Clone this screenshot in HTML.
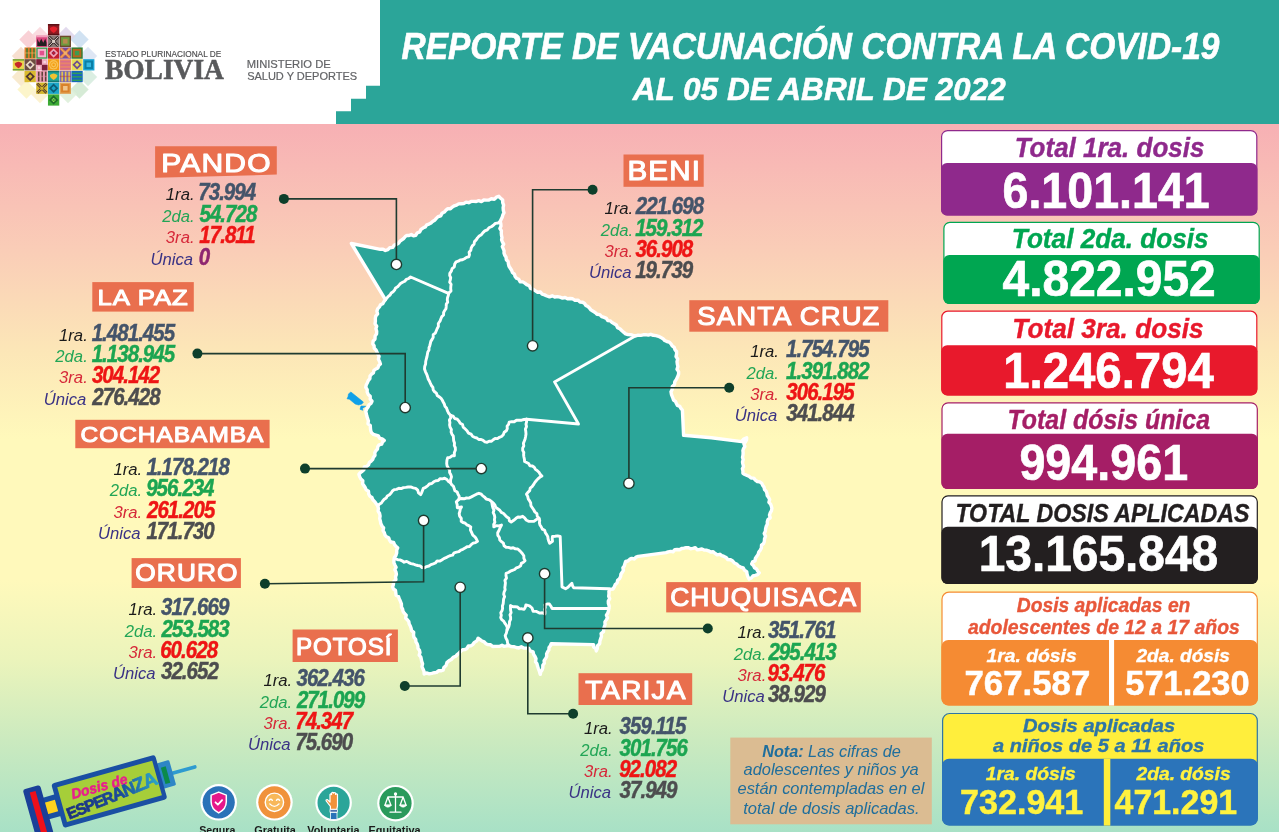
<!DOCTYPE html>
<html lang="es">
<head>
<meta charset="utf-8">
<title>Reporte de vacunación contra la COVID-19</title>
<style>
html,body{margin:0;padding:0;background:#fff;}
body{width:1279px;height:832px;overflow:hidden;font-family:'Liberation Sans',sans-serif;}
svg{display:block;}
text{white-space:pre;}
</style>
</head>
<body>
<svg width="1279" height="832" viewBox="0 0 1279 832">
<defs>
<linearGradient id="bg" x1="0" y1="0" x2="0" y2="1" gradientUnits="objectBoundingBox">
<stop offset="0" stop-color="#F7B0B4"/>
<stop offset="0.178" stop-color="#FACDB7"/>
<stop offset="0.319" stop-color="#FCE6B7"/>
<stop offset="0.446" stop-color="#FFF9BB"/>
<stop offset="0.644" stop-color="#FFF9BB"/>
<stop offset="0.757" stop-color="#EBF4BB"/>
<stop offset="0.870" stop-color="#CBEABF"/>
<stop offset="1" stop-color="#A8E1C6"/>
</linearGradient>
</defs>
<rect x="0" y="124" width="1279" height="708" fill="url(#bg)"/>
<rect x="0" y="0" width="1279" height="124" fill="#fff"/>
<path d="M380 0 H1279 V124 H336 V111.3 H351 V98.8 H366 V85.8 H380 Z" fill="#2BA599"/>
<text transform="translate(401.47 59.40) scale(0.9296 1)" font-family="'Liberation Sans', sans-serif" font-size="36" font-weight="bold" font-style="italic" fill="#fff" stroke="#fff" stroke-width="0.6">REPORTE DE VACUNACIÓN CONTRA LA COVID-19</text>
<text transform="translate(632.75 99.60) scale(0.9928 1)" font-family="'Liberation Sans', sans-serif" font-size="31.8" font-weight="bold" font-style="italic" fill="#fff" stroke="#fff" stroke-width="0.5">AL 05 DE ABRIL DE 2022</text>
<rect x="941.6" y="130.6" width="315.19999999999993" height="84.4" rx="6" ry="6" fill="#fff" stroke="#8F298C" stroke-width="1.2"/>
<rect x="941.0" y="163" width="316.3999999999999" height="52.6" rx="6" ry="6" fill="#8F298C"/>
<text transform="translate(1014.68 156.80) scale(0.9157 1)" font-family="'Liberation Sans', sans-serif" font-size="28.4" font-weight="bold" font-style="italic" fill="#8F298C" stroke="#8F298C" stroke-width="0.4">Total 1ra. dosis</text>
<text transform="translate(1002.50 208.00) scale(0.9228 1)" font-family="'Liberation Sans', sans-serif" font-size="50.5" font-weight="bold" font-style="normal" fill="#fff" stroke="#fff" stroke-width="0.7">6.101.141</text>
<rect x="943.9" y="222.4" width="315.30000000000007" height="81.1" rx="6" ry="6" fill="#fff" stroke="#00A651" stroke-width="1.2"/>
<rect x="943.3" y="255" width="316.50000000000006" height="49.1" rx="6" ry="6" fill="#00A651"/>
<text transform="translate(1011.87 248.10) scale(0.9220 1)" font-family="'Liberation Sans', sans-serif" font-size="28.4" font-weight="bold" font-style="italic" fill="#00A651" stroke="#00A651" stroke-width="0.4">Total 2da. dosis</text>
<text transform="translate(1002.52 295.60) scale(0.9663 1)" font-family="'Liberation Sans', sans-serif" font-size="49.6" font-weight="bold" font-style="normal" fill="#fff" stroke="#fff" stroke-width="0.7">4.822.952</text>
<rect x="941.8" y="311.2" width="315.0" height="83.60000000000002" rx="6" ry="6" fill="#fff" stroke="#E8192C" stroke-width="1.2"/>
<rect x="941.1999999999999" y="345.3" width="316.2" height="50.1" rx="6" ry="6" fill="#E8192C"/>
<text transform="translate(1012.37 337.60) scale(0.9230 1)" font-family="'Liberation Sans', sans-serif" font-size="28.4" font-weight="bold" font-style="italic" fill="#E8192C" stroke="#E8192C" stroke-width="0.4">Total 3ra. dosis</text>
<text transform="translate(1003.26 388.40) scale(0.9504 1)" font-family="'Liberation Sans', sans-serif" font-size="49.8" font-weight="bold" font-style="normal" fill="#fff" stroke="#fff" stroke-width="0.7">1.246.794</text>
<rect x="942" y="402.8" width="315.29999999999995" height="85.69999999999999" rx="6" ry="6" fill="#fff" stroke="#A51E66" stroke-width="1.2"/>
<rect x="941.4" y="433.8" width="316.49999999999994" height="55.29999999999999" rx="6" ry="6" fill="#A51E66"/>
<text transform="translate(1007.56 428.60) scale(0.8831 1)" font-family="'Liberation Sans', sans-serif" font-size="28.2" font-weight="bold" font-style="italic" fill="#A51E66" stroke="#A51E66" stroke-width="0.4">Total dósis única</text>
<text transform="translate(1019.40 479.60) scale(0.9335 1)" font-family="'Liberation Sans', sans-serif" font-size="50" font-weight="bold" font-style="normal" fill="#fff" stroke="#fff" stroke-width="0.7">994.961</text>
<rect x="942" y="495.8" width="315.29999999999995" height="87.49999999999994" rx="6" ry="6" fill="#fff" stroke="#231F20" stroke-width="1.2"/>
<rect x="941.4" y="526.8" width="316.49999999999994" height="57.1" rx="6" ry="6" fill="#231F20"/>
<text transform="translate(955.38 522.00) scale(0.8719 1)" font-family="'Liberation Sans', sans-serif" font-size="26.6" font-weight="bold" font-style="italic" fill="#231F20" stroke="#231F20" stroke-width="0.4">TOTAL DOSIS APLICADAS</text>
<text transform="translate(978.73 571.20) scale(0.9668 1)" font-family="'Liberation Sans', sans-serif" font-size="49.5" font-weight="bold" font-style="normal" fill="#fff" stroke="#fff" stroke-width="0.7">13.165.848</text>
<rect x="942" y="592.2" width="315.29999999999995" height="112.79999999999995" rx="7" ry="7" fill="#fff" stroke="#F58B33" stroke-width="1.2"/>
<rect x="941.4" y="640" width="316.49999999999994" height="65.6" rx="7" ry="7" fill="#F58B33"/>
<rect x="1109" y="640" width="5.099999999999909" height="65.6" fill="#fff"/>
<text transform="translate(1016.71 611.80) scale(0.9508 1)" font-family="'Liberation Sans', sans-serif" font-size="20.3" font-weight="bold" font-style="italic" fill="#E8573A" stroke="#E8573A" stroke-width="0.35">Dosis aplicadas en</text>
<text transform="translate(967.90 633.90) scale(0.9562 1)" font-family="'Liberation Sans', sans-serif" font-size="20.3" font-weight="bold" font-style="italic" fill="#E8573A" stroke="#E8573A" stroke-width="0.35">adolescentes de 12 a 17 años</text>
<text transform="translate(986.41 662.40) scale(1.0179 1)" font-family="'Liberation Sans', sans-serif" font-size="19" font-weight="bold" font-style="italic" fill="#fff" stroke="#fff" stroke-width="0.35">1ra. dósis</text>
<text transform="translate(1136.48 662.40) scale(1.0064 1)" font-family="'Liberation Sans', sans-serif" font-size="19" font-weight="bold" font-style="italic" fill="#fff" stroke="#fff" stroke-width="0.35">2da. dósis</text>
<text transform="translate(964.41 694.90) scale(0.9956 1)" font-family="'Liberation Sans', sans-serif" font-size="35" font-weight="bold" font-style="normal" fill="#fff" stroke="#fff" stroke-width="0.5">767.587</text>
<text transform="translate(1125.27 694.90) scale(0.9823 1)" font-family="'Liberation Sans', sans-serif" font-size="35" font-weight="bold" font-style="normal" fill="#fff" stroke="#fff" stroke-width="0.5">571.230</text>
<rect x="942.6" y="713.5" width="314.69999999999993" height="111.5" rx="7" ry="7" fill="#FFEE3C" stroke="#2E75A6" stroke-width="1.2"/>
<rect x="942.0" y="758.7" width="315.8999999999999" height="66.89999999999995" rx="7" ry="7" fill="#2B74BA"/>
<rect x="1103.8" y="758.7" width="6.5" height="66.89999999999995" fill="#FFEE3C"/>
<text transform="translate(1022.90 731.60) scale(1.0726 1)" font-family="'Liberation Sans', sans-serif" font-size="18.8" font-weight="bold" font-style="italic" fill="#2E75A6" stroke="#2E75A6" stroke-width="0.35">Dosis aplicadas</text>
<text transform="translate(992.90 752.30) scale(1.0674 1)" font-family="'Liberation Sans', sans-serif" font-size="18.8" font-weight="bold" font-style="italic" fill="#2E75A6" stroke="#2E75A6" stroke-width="0.35">a niños de 5 a 11 años</text>
<text transform="translate(985.71 779.80) scale(1.0733 1)" font-family="'Liberation Sans', sans-serif" font-size="18" font-weight="bold" font-style="italic" fill="#FFF23F" stroke="#FFF23F" stroke-width="0.35">1ra. dósis</text>
<text transform="translate(1136.49 779.80) scale(1.0703 1)" font-family="'Liberation Sans', sans-serif" font-size="18" font-weight="bold" font-style="italic" fill="#FFF23F" stroke="#FFF23F" stroke-width="0.35">2da. dósis</text>
<text transform="translate(960.04 813.60) scale(0.9855 1)" font-family="'Liberation Sans', sans-serif" font-size="34.6" font-weight="bold" font-style="normal" fill="#FFF23F" stroke="#FFF23F" stroke-width="0.5">732.941</text>
<text transform="translate(1114.56 813.60) scale(0.9797 1)" font-family="'Liberation Sans', sans-serif" font-size="34.6" font-weight="bold" font-style="normal" fill="#FFF23F" stroke="#FFF23F" stroke-width="0.5">471.291</text>
<polygon points="351.4,243.5 380.4,249.3 383.1,249.2 385.4,250.5 387.9,249.7 389.8,247.7 392.6,247.4 394.3,245.1 396.8,244.2 398.7,243.0 400.0,241.1 401.8,239.8 403.7,238.5 405.1,236.7 406.9,235.4 409.1,235.5 411.3,234.5 413.5,235.9 415.7,235.4 417.1,233.0 419.8,231.9 421.0,229.3 423.3,227.8 425.4,226.9 426.7,224.8 429.0,224.1 431.0,223.0 432.6,221.4 434.6,220.3 436.3,218.4 438.1,216.6 440.8,215.8 442.0,213.3 444.3,212.1 446.0,210.2 447.9,208.7 450.5,208.7 452.3,207.1 454.3,205.8 456.6,205.1 458.6,203.9 461.2,203.7 463.7,203.6 466.1,202.1 468.7,202.7 471.1,201.4 473.7,201.4 476.3,201.5 478.7,200.7 481.4,201.6 483.8,200.0 486.3,200.1 488.9,200.1 491.3,198.8 494.3,199.2 496.4,197.2 498.9,196.3 500.7,198.3 502.7,200.1 502.7,202.6 503.6,205.1 503.1,207.7 503.3,210.2 504.0,212.7 502.9,214.8 502.2,217.2 501.2,219.3 500.2,221.5 500.8,223.8 501.0,226.1 499.9,228.5 501.4,230.7 501.3,233.1 501.5,235.4 502.0,237.6 501.6,239.9 502.4,242.0 503.7,244.1 502.3,246.6 503.2,248.7 504.1,250.8 504.0,253.1 504.8,255.3 506.1,257.3 506.3,259.7 508.1,261.5 508.4,263.9 509.0,266.2 510.3,268.2 511.6,270.2 512.4,272.5 514.4,274.1 515.1,276.5 516.6,278.3 518.8,279.2 520.1,281.7 522.8,281.9 524.8,283.1 526.7,284.6 529.3,285.7 530.6,288.4 533.3,289.3 535.5,290.9 537.6,292.2 540.5,292.0 542.2,294.2 544.6,294.9 546.9,296.0 549.5,296.8 552.2,295.8 554.7,297.0 557.4,296.6 560.0,297.2 562.5,298.1 565.1,297.5 567.5,298.7 570.1,298.5 572.7,298.8 575.0,300.3 577.9,300.1 580.0,302.0 582.7,302.3 584.6,303.5 585.9,305.5 587.9,306.6 589.5,308.1 590.9,309.8 592.8,311.1 595.1,312.4 597.0,314.3 599.8,314.6 601.7,316.6 604.2,317.4 606.4,318.4 607.8,320.6 610.4,320.9 612.1,322.6 614.2,323.7 616.4,325.0 617.5,327.6 619.9,328.7 621.7,330.5 623.6,332.2 625.6,333.8 628.1,334.6 630.7,334.7 633.2,335.4 635.7,335.8 638.2,335.1 640.7,335.4 643.2,334.8 645.7,334.6 648.3,335.1 650.8,334.3 653.3,335.3 656.0,335.6 658.5,336.3 660.9,337.6 663.0,338.7 664.7,340.5 666.9,341.5 669.3,342.1 671.0,343.9 672.2,345.9 674.2,347.4 675.0,349.8 676.6,351.5 676.6,354.0 676.0,356.6 677.7,359.0 677.0,361.6 677.3,364.1 677.9,366.6 677.0,369.3 678.6,371.6 678.6,374.2 677.6,376.8 676.4,379.4 674.8,381.7 674.5,384.5 672.3,386.5 672.2,389.4 671.0,391.8 671.5,394.6 672.6,397.3 673.5,400.0 675.4,401.3 676.4,403.5 677.4,405.5 679.9,406.4 680.9,408.4 682.4,410.1 683.6,435.3 711.4,437.8 741.7,441.6 743.7,439.0 746.7,437.8 746.5,440.0 745.4,442.0 743.9,443.9 744.9,446.5 743.6,448.4 742.9,450.5 743.1,452.8 743.0,455.0 742.5,457.3 743.2,459.6 742.5,461.9 742.9,464.1 743.5,466.4 742.4,468.7 742.9,470.9 742.9,473.2 744.9,474.5 747.1,475.5 749.3,476.4 751.1,478.0 753.8,478.1 755.4,480.2 757.3,481.5 759.8,481.9 761.8,483.3 762.7,485.4 764.1,487.2 764.5,489.5 766.1,491.2 766.9,493.3 767.2,495.6 768.6,497.5 769.7,499.6 768.9,502.3 770.6,504.1 771.4,506.3 771.9,508.5 771.4,510.8 770.2,512.9 769.5,515.1 770.2,517.8 767.9,519.6 767.3,521.8 767.3,524.3 766.2,526.4 765.6,528.7 765.4,531.2 764.2,533.6 765.5,536.3 764.5,538.8 764.4,541.3 763.5,543.6 761.5,545.2 761.4,547.9 760.3,550.1 758.8,552.0 758.1,554.4 756.8,556.4 755.4,558.2 755.1,560.8 752.6,561.8 751.7,564.0 753.4,565.6 754.5,567.8 756.6,569.0 757.7,571.1 759.3,572.8 757.6,574.6 755.3,575.4 752.9,576.0 751.3,578.0 749.2,579.1 747.9,576.7 747.1,574.3 746.7,571.6 744.5,570.3 743.2,567.9 740.6,567.1 738.4,565.9 736.6,564.0 734.3,563.0 732.7,561.0 730.6,559.8 727.8,559.6 726.2,557.5 724.0,556.4 721.8,555.6 719.8,554.3 717.1,554.9 715.1,553.4 713.2,551.7 710.6,552.0 708.5,550.8 706.3,550.1 704.0,550.0 701.9,549.0 699.6,549.5 697.3,549.8 695.3,547.7 692.9,548.4 690.6,548.7 688.5,547.7 686.2,547.6 684.0,548.2 681.7,548.5 679.6,549.8 677.1,549.5 674.8,549.7 673.0,551.8 670.5,551.4 668.2,551.8 666.0,552.6 638.2,556.4 636.0,557.1 634.4,559.0 631.7,558.4 629.6,559.4 627.8,561.0 625.6,561.5 624.9,563.7 624.3,565.9 622.9,567.8 623.4,570.3 622.2,572.3 620.9,574.3 620.6,576.6 619.5,578.8 617.6,580.4 617.1,583.0 615.2,584.6 614.3,586.9 613.0,589.0 610.2,589.3 608.9,591.4 609.0,593.8 608.7,596.3 609.7,598.7 608.3,601.2 608.4,603.6 609.2,606.1 608.9,608.5 608.5,610.8 607.8,613.0 606.4,615.1 607.5,617.8 606.3,619.9 604.9,621.9 605.1,624.4 604.4,626.6 603.7,629.0 603.5,631.6 601.1,633.5 601.5,636.2 600.7,638.6 599.9,641.0 599.7,643.7 597.5,645.7 597.3,648.5 596.3,650.9 595.9,648.6 593.6,647.1 593.6,644.6 551.2,643.7 550.4,645.8 549.0,647.6 548.9,650.0 547.6,651.8 546.6,654.0 546.7,656.5 545.5,658.6 544.1,660.7 544.3,663.2 542.8,665.2 542.8,667.7 542.1,670.0 540.7,672.0 540.3,674.4 539.5,671.7 538.5,669.0 537.6,666.3 537.0,663.8 535.5,661.7 536.0,658.8 535.0,656.5 533.6,654.3 533.1,651.8 530.2,650.8 528.6,648.2 526.1,648.1 523.7,648.0 521.3,646.8 518.7,648.1 516.3,647.5 513.8,646.7 511.2,646.6 508.8,645.5 506.6,645.8 504.3,646.4 502.0,645.2 499.8,646.2 497.6,646.4 495.3,646.4 492.7,646.5 490.6,644.7 488.0,644.6 485.8,643.7 484.2,641.8 482.0,641.0 480.1,639.6 478.1,638.3 476.9,640.9 474.4,642.4 472.7,644.6 470.8,645.9 468.3,646.0 467.0,648.4 465.0,649.5 462.6,649.8 460.8,651.3 459.1,653.0 457.3,654.5 455.7,656.3 453.2,657.4 451.3,659.5 449.0,660.8 446.9,662.6 446.1,665.4 443.9,667.4 443.1,670.2 440.9,670.8 438.5,670.8 436.6,672.4 434.3,672.7 431.8,673.3 429.3,673.8 426.6,673.0 424.2,674.0 424.0,671.4 423.0,669.0 421.9,666.6 422.6,663.9 421.7,661.4 421.3,659.2 420.8,657.0 419.2,655.1 420.0,652.6 419.5,650.4 418.0,648.5 417.9,646.2 417.2,643.9 415.9,641.8 415.7,639.3 414.0,637.4 413.5,635.1 413.7,632.4 411.6,630.6 411.1,628.3 410.3,626.0 409.2,624.0 408.8,621.6 407.3,619.7 405.6,618.0 406.2,615.1 404.5,613.4 403.1,611.5 402.6,609.1 401.5,607.1 401.4,603.8 400.2,600.8 399.2,598.8 398.5,596.6 396.1,595.3 395.8,592.9 395.5,590.5 393.4,589.0 392.6,586.9 393.4,584.4 393.7,581.7 395.9,579.6 395.5,576.8 396.4,574.3 396.0,572.0 394.8,569.8 396.1,567.2 394.9,565.0 393.9,562.8 393.9,560.4 394.3,557.8 395.9,555.5 396.7,553.0 396.7,550.2 397.7,547.8 395.9,546.4 394.5,544.7 393.6,542.4 390.8,542.0 389.5,540.1 388.7,537.8 386.5,536.8 385.0,535.1 384.3,532.7 383.0,530.6 383.6,527.8 381.9,525.8 380.8,523.5 380.4,521.1 379.7,518.6 380.1,516.0 379.6,513.5 378.1,511.1 378.4,508.5 377.8,506.0 376.2,503.8 374.7,501.6 372.8,499.7 371.9,497.5 369.8,496.1 368.7,493.9 368.5,491.3 366.2,489.9 365.3,487.8 364.0,485.8 362.6,483.7 362.8,480.8 360.9,479.0 359.7,476.8 358.9,474.4 360.3,472.6 362.2,471.3 363.9,469.7 364.3,466.9 366.9,466.3 368.6,464.7 369.4,462.3 371.3,461.0 372.8,459.3 373.5,457.1 375.0,455.3 374.8,452.8 375.8,450.8 377.5,449.0 377.8,446.7 379.1,444.8 381.7,444.2 382.5,441.9 384.2,440.4 382.2,439.0 379.7,438.4 378.3,435.9 375.9,435.1 373.4,434.4 371.5,432.8 370.7,430.5 370.4,428.0 370.3,425.6 368.0,423.7 368.4,421.0 367.7,418.7 366.9,416.4 366.3,414.0 365.8,411.3 366.7,408.8 368.2,407.0 369.0,404.8 371.0,403.4 372.0,401.2 370.2,399.2 370.2,396.3 368.2,394.4 367.2,392.0 367.2,389.6 365.7,387.3 366.3,384.8 367.4,382.7 368.3,380.5 369.9,378.7 370.0,376.1 371.5,374.2 373.4,372.8 373.9,370.4 375.8,369.0 377.9,367.9 378.7,365.6 380.4,364.1 379.6,361.6 378.4,359.2 379.1,356.4 377.8,354.0 376.9,351.9 376.0,349.9 374.2,348.2 374.1,345.8 372.8,343.9 373.1,341.1 375.0,339.0 375.1,336.1 376.6,333.8 376.7,331.3 375.9,328.8 376.7,326.2 375.0,323.8 375.4,321.2 375.3,318.7 375.7,316.1 377.6,313.9 376.9,311.1 377.8,308.6 379.5,306.9 380.5,304.7 382.8,303.7 384.0,301.5 385.4,299.7" fill="#2BA599" stroke="#fff" stroke-width="3.4" stroke-linejoin="round"/>
<polyline points="385.4,299.7 386.9,298.0 388.3,296.4 390.1,295.0 391.2,293.0 393.1,291.7 394.6,290.1 395.6,287.9 397.6,286.8 399.1,285.1 400.5,283.4 402.6,282.2 404.8,281.2 406.4,279.3 408.7,278.5 410.6,277.0 448.5,293.4" fill="none" stroke="#fff" stroke-width="2.9" stroke-linejoin="round" stroke-linecap="round"/>
<polyline points="500.2,221.5 498.1,223.0 495.3,223.4 493.4,225.2 491.3,226.7 488.9,227.8 487.3,229.8 484.8,230.9 483.0,232.6 481.4,234.7 479.2,236.0 477.5,237.9 476.2,239.9 474.5,241.6 474.0,244.2 472.3,245.9 471.2,248.0 470.8,250.3 469.1,252.2 469.5,254.7 468.7,256.9 466.5,257.4 464.5,258.7 462.5,259.7 460.2,260.0 458.3,261.2 456.1,261.9 454.7,264.1 454.3,266.8 452.1,268.6 451.3,271.2 449.8,273.3 449.7,275.5 450.7,277.7 450.3,279.9 449.7,282.2 451.1,284.3 450.8,286.5 450.7,288.7 451.0,290.9 448.5,293.4" fill="none" stroke="#fff" stroke-width="2.9" stroke-linejoin="round" stroke-linecap="round"/>
<polyline points="448.5,293.4 448.3,295.6 447.5,297.7 447.3,299.9 447.7,302.2 446.3,304.2 446.2,306.4 446.0,308.6 444.7,310.5 443.6,312.4 443.6,315.0 441.8,316.6 440.9,318.7 440.0,321.2 438.3,323.5 438.4,326.4 437.1,328.8 436.2,331.0 435.3,333.1 433.2,334.7 433.2,337.3 432.1,339.4 430.8,341.4 430.3,343.6 429.8,345.7 429.0,347.8 429.0,350.1 427.8,352.1 427.4,354.3 427.0,356.5 426.3,359.0 425.7,361.5 425.6,364.1 424.7,366.5 424.5,369.1 425.4,371.6 426.6,374.1 427.5,376.6 428.3,379.2 429.5,381.2 430.4,383.4 431.4,385.5 432.9,387.4 433.2,389.9 434.6,391.8 436.4,393.1 437.2,395.5 439.1,396.8 440.9,398.1 442.2,400.0 443.2,402.0 444.3,404.0 444.9,406.2 446.5,407.9 447.2,410.1 448.5,413.0 450.6,415.4" fill="none" stroke="#fff" stroke-width="2.9" stroke-linejoin="round" stroke-linecap="round"/>
<polyline points="450.6,415.4 453.1,416.2 454.7,418.5 457.3,419.2 458.9,421.1 460.2,423.2 462.5,424.5 463.2,427.1 465.0,428.8 467.0,430.7 468.4,433.1 471.1,434.2 472.7,436.5 474.8,437.3 476.9,438.0 478.7,439.5 481.1,439.5 483.1,440.4 484.9,441.8 487.1,442.3 489.1,441.2 491.5,441.3 493.2,439.7 495.1,438.5 497.5,438.6 499.4,437.3 501.5,436.5 503.3,434.7 504.2,432.3 506.3,430.8 507.3,428.7 507.1,426.2 508.6,424.3 509.2,422.1 511.7,421.6 514.2,421.8 516.5,420.2 519.1,420.3 521.6,420.2 524.0,419.5 526.5,419.2" fill="none" stroke="#fff" stroke-width="2.9" stroke-linejoin="round" stroke-linecap="round"/>
<polyline points="526.5,419.2 578.5,424.0 554.5,381.9 635.7,335.8" fill="none" stroke="#fff" stroke-width="2.9" stroke-linejoin="round" stroke-linecap="round"/>
<polyline points="450.6,415.4 450.8,417.8 449.4,420.1 449.9,422.6 449.6,425.0 450.1,427.3 451.4,429.4 451.1,431.9 451.9,434.1 453.3,436.1 453.5,438.5 453.7,440.8 454.5,443.1 454.3,445.5 455.3,447.7 455.4,450.0 454.3,452.8 454.4,455.8 452.0,455.8 450.0,457.4 447.7,457.7 446.9,460.5 446.7,463.5 447.1,465.9 448.3,468.0 449.6,470.0 449.6,472.5 450.8,474.6 451.5,476.9 450.6,479.7 450.6,482.7 451.7,484.7 453.4,486.3 454.2,488.5 454.9,490.8 457.2,492.0 458.0,494.2 459.2,496.2 459.2,499.0" fill="none" stroke="#fff" stroke-width="2.9" stroke-linejoin="round" stroke-linecap="round"/>
<polyline points="377.8,506.0 379.3,504.2 381.4,503.0 382.7,501.0 384.2,499.3 386.2,498.0 387.3,495.9 389.5,494.7 391.1,493.0 392.4,491.0 394.2,489.6 396.6,489.4 398.8,488.3 401.2,488.6 403.4,487.6 405.8,487.4 408.1,487.0 410.7,486.9 413.2,487.8 415.7,488.3 417.7,490.1 418.5,492.9 420.7,494.6 421.7,492.6 422.5,490.4 423.3,488.3 425.6,487.3 427.6,485.9 429.3,484.0 431.8,483.5 433.7,481.8 435.9,480.7 438.2,480.5 440.1,478.6 442.5,478.9 444.7,478.2 446.9,479.5 448.4,481.5 450.6,482.7" fill="none" stroke="#fff" stroke-width="2.9" stroke-linejoin="round" stroke-linecap="round"/>
<polyline points="526.5,419.2 526.6,421.7 526.0,424.1 526.5,426.6 525.4,429.1 525.8,431.6 526.0,434.0 525.6,436.5 525.1,438.9 524.3,441.1 523.4,443.3 523.8,445.9 522.7,448.1 522.7,450.4 523.8,452.5 523.6,454.8 523.9,457.0 524.4,459.2 524.6,461.5 526.6,462.5 528.6,463.5 529.9,465.7 532.4,466.0 534.2,467.3 535.4,469.3 537.3,470.7 539.0,472.3 540.2,474.4 541.9,476.0 539.7,477.3 537.9,478.9 536.2,480.8 534.7,482.6 533.5,484.7 532.1,486.6 530.2,488.1 529.7,490.7 527.9,492.3 526.5,494.2 527.7,496.4 528.2,498.8 529.6,500.8 530.7,503.0 530.9,505.6 532.3,507.7 533.7,509.8 534.9,512.0 536.9,513.7 537.3,516.4 539.0,518.3 539.7,520.5 539.4,522.8 540.0,525.0 541.3,527.0 542.3,529.1 544.7,530.3 545.3,532.7 546.7,534.6 547.8,536.7 548.1,539.0 548.8,541.2 549.6,543.3 552.5,541.3 552.2,538.9 552.5,536.5 555.1,536.3 557.6,535.9 560.2,536.5 562.0,586.9 565.6,588.7 568.0,587.3 569.9,585.3 571.9,583.3 572.5,585.7 573.7,587.8 608.9,588.7" fill="none" stroke="#fff" stroke-width="2.9" stroke-linejoin="round" stroke-linecap="round"/>
<polyline points="459.2,499.0 461.6,498.5 464.0,498.8 466.4,498.0 468.8,498.1 471.4,496.9 474.0,495.5 476.5,494.2 478.9,493.3 481.3,494.2 482.8,495.9 484.7,497.2 486.2,499.0 489.4,499.8 491.9,501.9 493.6,503.4 495.0,505.2 495.8,507.4 497.7,508.7 499.8,510.2 501.3,512.4 503.6,513.5 505.4,515.4 506.9,517.0 508.9,518.2 509.4,520.8 511.2,522.1 513.7,520.3 516.0,518.3 518.0,517.0 520.5,517.2 522.7,516.3 524.6,517.9 526.2,520.0 528.5,521.2 531.4,521.4 534.2,521.2 536.5,519.5 539.0,518.3" fill="none" stroke="#fff" stroke-width="2.9" stroke-linejoin="round" stroke-linecap="round"/>
<polyline points="459.2,499.0 456.3,501.9 457.2,504.7 457.3,507.7 461.5,507.0 460.3,509.0 459.9,511.3 459.2,513.5 459.6,516.1 461.3,518.4 461.2,521.2 463.0,522.5 465.2,523.2 466.8,524.8 468.9,525.7 470.8,526.9 470.4,529.9 471.7,532.7 472.8,535.1 474.9,536.8 476.3,538.9 477.5,541.3 475.5,542.6 473.1,543.2 471.2,544.6 469.5,546.5 467.0,546.7 465.0,548.1 462.9,549.3 460.7,550.1 458.9,551.7 456.5,552.2 454.1,552.8 452.6,555.1 450.2,555.6 448.1,556.5 446.0,557.7 443.8,558.6 441.8,560.0 439.7,561.1 437.1,561.0 435.4,563.0 433.2,563.9 430.9,564.6 428.9,566.0 426.6,566.6 424.5,567.8 422.1,567.5 420.1,565.9 417.7,565.5 415.4,564.8 413.2,564.0 410.9,563.6 408.8,562.6 406.7,561.4 404.1,562.2 402.1,560.8 400.0,559.9 397.7,559.7 395.5,558.9" fill="none" stroke="#fff" stroke-width="2.9" stroke-linejoin="round" stroke-linecap="round"/>
<polyline points="491.9,503.0 492.3,505.4 492.9,507.8 494.0,510.0 493.2,512.7 494.3,514.9 494.8,517.3 494.4,519.7 494.9,522.2 493.7,524.5 493.8,526.9 496.2,525.8 499.0,525.9 501.5,525.0 500.2,527.5 499.1,530.2 497.7,532.7 497.8,535.3 499.4,537.5 499.8,540.0 501.5,541.7 503.4,543.2 504.1,545.8 506.1,547.2 508.5,547.4 510.7,548.2 513.2,547.8 515.4,548.9 517.8,549.0 520.2,551.1 522.3,553.5 523.8,555.7 523.9,558.4 525.0,560.7 523.4,562.3 521.3,563.4 520.6,565.8 518.7,567.1 516.4,567.8 514.7,569.5 512.4,570.3 510.3,571.2 508.3,572.5 506.1,573.4 506.0,575.7 506.5,578.1 504.9,580.4 505.4,582.8 505.2,585.1 504.8,587.4 505.1,589.8 504.1,592.0 503.7,594.3 504.6,596.7 503.6,599.0 503.4,601.3 503.2,603.7 502.4,605.9 502.6,608.3 502.1,610.6 500.8,612.8 501.3,615.3 500.7,617.6 501.7,619.6 503.6,621.1 504.7,623.0 506.1,624.8 507.3,627.4 507.0,630.2 506.4,633.0 505.2,635.6 505.9,638.1 507.2,640.5 507.6,643.1 508.8,645.5" fill="none" stroke="#fff" stroke-width="2.9" stroke-linejoin="round" stroke-linecap="round"/>
<polyline points="510.6,605.8 510.5,608.1 510.6,610.3 511.1,612.6 510.0,614.9 510.6,617.1 510.6,619.4 509.5,621.7 509.4,624.2 508.8,626.6 507.0,630.2" fill="none" stroke="#fff" stroke-width="2.9" stroke-linejoin="round" stroke-linecap="round"/>
<polyline points="510.6,605.8 512.8,606.7 515.1,606.8 517.5,607.0 519.4,608.9 521.9,608.8 524.1,609.4 525.3,607.3 525.9,604.9 529.5,605.8 532.0,608.0 533.1,611.2 536.5,611.4 539.4,613.1 542.3,612.8 544.9,614.0 545.0,611.7 544.6,609.5 545.3,607.2 544.9,604.9 547.1,604.0 549.4,604.0 550.9,606.2 552.1,608.5 608.9,608.5" fill="none" stroke="#fff" stroke-width="2.9" stroke-linejoin="round" stroke-linecap="round"/>
<path d="M348.5 393.9 L350.9 392 L363.4 402.1 L361.9 404 L358.6 405 L355.2 404 L349.4 399.2 L347 398.8 L348 396.8 Z M361 406 L365.8 406.2 L362.4 408.4 L362.9 410.3 L360 409.3 Z" fill="#0FA0E8" stroke="#0FA0E8" stroke-width="0.6" stroke-linejoin="round"/>
<polyline points="283.9,198.9 396.4,198.9 396.4,264.4" fill="none" stroke="#1F3B30" stroke-width="1.6"/>
<circle cx="283.9" cy="198.9" r="5" fill="#0E3F2B"/>
<circle cx="396.4" cy="264.4" r="5.2" fill="#fff" stroke="#1F3B30" stroke-width="1.4"/>
<polyline points="197.4,353.6 405.2,353.6 405.2,407.6" fill="none" stroke="#1F3B30" stroke-width="1.6"/>
<circle cx="197.4" cy="353.6" r="5" fill="#0E3F2B"/>
<circle cx="405.2" cy="407.6" r="5.2" fill="#fff" stroke="#1F3B30" stroke-width="1.4"/>
<polyline points="305.0,468.6 481.3,468.6" fill="none" stroke="#1F3B30" stroke-width="1.6"/>
<circle cx="305" cy="468.6" r="5" fill="#0E3F2B"/>
<circle cx="481.3" cy="468.6" r="5.2" fill="#fff" stroke="#1F3B30" stroke-width="1.4"/>
<polyline points="264.9,583.7 423.6,581.7 423.6,520.5" fill="none" stroke="#1F3B30" stroke-width="1.6"/>
<circle cx="264.9" cy="583.7" r="5" fill="#0E3F2B"/>
<circle cx="423.6" cy="520.5" r="5.2" fill="#fff" stroke="#1F3B30" stroke-width="1.4"/>
<polyline points="404.8,686.0 460.2,686.0 460.2,587.3" fill="none" stroke="#1F3B30" stroke-width="1.6"/>
<circle cx="404.8" cy="686" r="5" fill="#0E3F2B"/>
<circle cx="460.2" cy="587.3" r="5.2" fill="#fff" stroke="#1F3B30" stroke-width="1.4"/>
<polyline points="592.6,189.8 532.6,189.8 532.6,345.8" fill="none" stroke="#1F3B30" stroke-width="1.6"/>
<circle cx="592.6" cy="189.8" r="5" fill="#0E3F2B"/>
<circle cx="532.6" cy="345.8" r="5.2" fill="#fff" stroke="#1F3B30" stroke-width="1.4"/>
<polyline points="729.2,387.7 628.9,387.7 628.9,483.3" fill="none" stroke="#1F3B30" stroke-width="1.6"/>
<circle cx="729.2" cy="387.7" r="5" fill="#0E3F2B"/>
<circle cx="628.9" cy="483.3" r="5.2" fill="#fff" stroke="#1F3B30" stroke-width="1.4"/>
<polyline points="707.8,628.5 544.6,628.5 544.6,573.7" fill="none" stroke="#1F3B30" stroke-width="1.6"/>
<circle cx="707.8" cy="628.5" r="5" fill="#0E3F2B"/>
<circle cx="544.6" cy="573.7" r="5.2" fill="#fff" stroke="#1F3B30" stroke-width="1.4"/>
<polyline points="573.1,713.8 527.8,713.8 527.8,637.9" fill="none" stroke="#1F3B30" stroke-width="1.6"/>
<circle cx="573.1" cy="713.8" r="5" fill="#0E3F2B"/>
<circle cx="527.8" cy="637.9" r="5.2" fill="#fff" stroke="#1F3B30" stroke-width="1.4"/>
<polygon points="155.1,146.2 276.8,146.2 276.8,174.6 155.1,177.8" fill="#E96F4E"/>
<text transform="translate(161.25 171.50) scale(1.1372 1)" font-family="'Liberation Sans', sans-serif" font-size="26.4" font-weight="normal" font-style="normal" fill="#fff" letter-spacing="1.06" stroke="#fff" stroke-width="1.1" stroke-linejoin="round">PANDO</text>
<text transform="translate(165.86 200.20) scale(0.9800 1)" font-family="'Liberation Sans', sans-serif" font-size="17" font-weight="normal" font-style="italic" fill="#1a1a1a" >1ra.</text>
<text transform="translate(198.27 200.20) scale(0.8800 1)" font-family="'Liberation Sans', sans-serif" font-size="23.3" font-weight="bold" font-style="italic" fill="#44546A" letter-spacing="-1.10" stroke="#44546A" stroke-width="0.45">73.994</text>
<text transform="translate(162.14 221.80) scale(0.9800 1)" font-family="'Liberation Sans', sans-serif" font-size="17" font-weight="normal" font-style="italic" fill="#22A556" >2da.</text>
<text transform="translate(199.50 221.80) scale(0.8800 1)" font-family="'Liberation Sans', sans-serif" font-size="23.3" font-weight="bold" font-style="italic" fill="#1CA551" letter-spacing="-1.10" stroke="#1CA551" stroke-width="0.45">54.728</text>
<text transform="translate(165.86 243.30) scale(0.9800 1)" font-family="'Liberation Sans', sans-serif" font-size="17" font-weight="normal" font-style="italic" fill="#D62839" >3ra.</text>
<text transform="translate(199.29 243.30) scale(0.8800 1)" font-family="'Liberation Sans', sans-serif" font-size="23.3" font-weight="bold" font-style="italic" fill="#EE1515" letter-spacing="-1.10" stroke="#EE1515" stroke-width="0.45">17.811</text>
<text transform="translate(150.44 264.70) scale(0.9800 1)" font-family="'Liberation Sans', sans-serif" font-size="17" font-weight="normal" font-style="italic" fill="#3A3285" >Única</text>
<text transform="translate(198.68 264.70) scale(0.8800 1)" font-family="'Liberation Sans', sans-serif" font-size="23.3" font-weight="bold" font-style="italic" fill="#8E2670" letter-spacing="-1.10" stroke="#8E2670" stroke-width="0.45">0</text>
<rect x="92.3" y="282.1" width="101.50000000000001" height="29.5" fill="#E96F4E"/>
<text transform="translate(97.39 304.50) scale(1.1292 1)" font-family="'Liberation Sans', sans-serif" font-size="22.8" font-weight="normal" font-style="normal" fill="#fff" letter-spacing="0.91" stroke="#fff" stroke-width="1.1" stroke-linejoin="round">LA PAZ</text>
<text transform="translate(59.06 340.70) scale(0.9800 1)" font-family="'Liberation Sans', sans-serif" font-size="17" font-weight="normal" font-style="italic" fill="#1a1a1a" >1ra.</text>
<text transform="translate(91.69 340.70) scale(0.8800 1)" font-family="'Liberation Sans', sans-serif" font-size="23.3" font-weight="bold" font-style="italic" fill="#44546A" letter-spacing="-1.10" stroke="#44546A" stroke-width="0.45">1.481.455</text>
<text transform="translate(55.34 362.00) scale(0.9800 1)" font-family="'Liberation Sans', sans-serif" font-size="17" font-weight="normal" font-style="italic" fill="#22A556" >2da.</text>
<text transform="translate(91.69 362.00) scale(0.8800 1)" font-family="'Liberation Sans', sans-serif" font-size="23.3" font-weight="bold" font-style="italic" fill="#1CA551" letter-spacing="-1.10" stroke="#1CA551" stroke-width="0.45">1.138.945</text>
<text transform="translate(59.06 383.40) scale(0.9800 1)" font-family="'Liberation Sans', sans-serif" font-size="17" font-weight="normal" font-style="italic" fill="#D62839" >3ra.</text>
<text transform="translate(91.90 383.40) scale(0.8800 1)" font-family="'Liberation Sans', sans-serif" font-size="23.3" font-weight="bold" font-style="italic" fill="#EE1515" letter-spacing="-1.10" stroke="#EE1515" stroke-width="0.45">304.142</text>
<text transform="translate(43.64 404.90) scale(0.9800 1)" font-family="'Liberation Sans', sans-serif" font-size="17" font-weight="normal" font-style="italic" fill="#3A3285" >Única</text>
<text transform="translate(92.31 404.90) scale(0.8800 1)" font-family="'Liberation Sans', sans-serif" font-size="23.3" font-weight="bold" font-style="italic" fill="#4D4D4F" letter-spacing="-1.10" stroke="#4D4D4F" stroke-width="0.45">276.428</text>
<rect x="75.3" y="419.8" width="194.3" height="28.399999999999977" fill="#E96F4E"/>
<text transform="translate(80.53 441.60) scale(1.0692 1)" font-family="'Liberation Sans', sans-serif" font-size="22.9" font-weight="normal" font-style="normal" fill="#fff" letter-spacing="0.92" stroke="#fff" stroke-width="1.1" stroke-linejoin="round">COCHABAMBA</text>
<text transform="translate(113.46 474.70) scale(0.9800 1)" font-family="'Liberation Sans', sans-serif" font-size="17" font-weight="normal" font-style="italic" fill="#1a1a1a" >1ra.</text>
<text transform="translate(146.39 474.70) scale(0.8800 1)" font-family="'Liberation Sans', sans-serif" font-size="23.3" font-weight="bold" font-style="italic" fill="#44546A" letter-spacing="-1.10" stroke="#44546A" stroke-width="0.45">1.178.218</text>
<text transform="translate(109.74 496.40) scale(0.9800 1)" font-family="'Liberation Sans', sans-serif" font-size="17" font-weight="normal" font-style="italic" fill="#22A556" >2da.</text>
<text transform="translate(146.19 496.40) scale(0.8800 1)" font-family="'Liberation Sans', sans-serif" font-size="23.3" font-weight="bold" font-style="italic" fill="#1CA551" letter-spacing="-1.10" stroke="#1CA551" stroke-width="0.45">956.234</text>
<text transform="translate(113.46 517.80) scale(0.9800 1)" font-family="'Liberation Sans', sans-serif" font-size="17" font-weight="normal" font-style="italic" fill="#D62839" >3ra.</text>
<text transform="translate(147.01 517.80) scale(0.8800 1)" font-family="'Liberation Sans', sans-serif" font-size="23.3" font-weight="bold" font-style="italic" fill="#EE1515" letter-spacing="-1.10" stroke="#EE1515" stroke-width="0.45">261.205</text>
<text transform="translate(98.04 539.20) scale(0.9800 1)" font-family="'Liberation Sans', sans-serif" font-size="17" font-weight="normal" font-style="italic" fill="#3A3285" >Única</text>
<text transform="translate(146.39 539.20) scale(0.8800 1)" font-family="'Liberation Sans', sans-serif" font-size="23.3" font-weight="bold" font-style="italic" fill="#4D4D4F" letter-spacing="-1.10" stroke="#4D4D4F" stroke-width="0.45">171.730</text>
<rect x="131.6" y="558.1" width="109.30000000000001" height="29.899999999999977" fill="#E96F4E"/>
<text transform="translate(135.30 581.40) scale(1.0790 1)" font-family="'Liberation Sans', sans-serif" font-size="24.4" font-weight="normal" font-style="normal" fill="#fff" letter-spacing="0.98" stroke="#fff" stroke-width="1.1" stroke-linejoin="round">ORURO</text>
<text transform="translate(128.46 615.00) scale(0.9800 1)" font-family="'Liberation Sans', sans-serif" font-size="17" font-weight="normal" font-style="italic" fill="#1a1a1a" >1ra.</text>
<text transform="translate(161.00 615.00) scale(0.8800 1)" font-family="'Liberation Sans', sans-serif" font-size="23.3" font-weight="bold" font-style="italic" fill="#44546A" letter-spacing="-1.10" stroke="#44546A" stroke-width="0.45">317.669</text>
<text transform="translate(124.74 636.70) scale(0.9800 1)" font-family="'Liberation Sans', sans-serif" font-size="17" font-weight="normal" font-style="italic" fill="#22A556" >2da.</text>
<text transform="translate(161.41 636.70) scale(0.8800 1)" font-family="'Liberation Sans', sans-serif" font-size="23.3" font-weight="bold" font-style="italic" fill="#1CA551" letter-spacing="-1.10" stroke="#1CA551" stroke-width="0.45">253.583</text>
<text transform="translate(128.46 658.10) scale(0.9800 1)" font-family="'Liberation Sans', sans-serif" font-size="17" font-weight="normal" font-style="italic" fill="#D62839" >3ra.</text>
<text transform="translate(160.18 658.10) scale(0.8800 1)" font-family="'Liberation Sans', sans-serif" font-size="23.3" font-weight="bold" font-style="italic" fill="#EE1515" letter-spacing="-1.10" stroke="#EE1515" stroke-width="0.45">60.628</text>
<text transform="translate(113.04 679.20) scale(0.9800 1)" font-family="'Liberation Sans', sans-serif" font-size="17" font-weight="normal" font-style="italic" fill="#3A3285" >Única</text>
<text transform="translate(161.00 679.20) scale(0.8800 1)" font-family="'Liberation Sans', sans-serif" font-size="23.3" font-weight="bold" font-style="italic" fill="#4D4D4F" letter-spacing="-1.10" stroke="#4D4D4F" stroke-width="0.45">32.652</text>
<rect x="292.6" y="629.5" width="105.29999999999995" height="32.5" fill="#E96F4E"/>
<text transform="translate(295.92 655.00) scale(1.0358 1)" font-family="'Liberation Sans', sans-serif" font-size="23.3" font-weight="normal" font-style="normal" fill="#fff" letter-spacing="0.93" stroke="#fff" stroke-width="1.1" stroke-linejoin="round">POTOSÍ</text>
<text transform="translate(263.46 685.80) scale(0.9800 1)" font-family="'Liberation Sans', sans-serif" font-size="17" font-weight="normal" font-style="italic" fill="#1a1a1a" >1ra.</text>
<text transform="translate(296.50 685.80) scale(0.8800 1)" font-family="'Liberation Sans', sans-serif" font-size="23.3" font-weight="bold" font-style="italic" fill="#44546A" letter-spacing="-1.10" stroke="#44546A" stroke-width="0.45">362.436</text>
<text transform="translate(259.74 707.50) scale(0.9800 1)" font-family="'Liberation Sans', sans-serif" font-size="17" font-weight="normal" font-style="italic" fill="#22A556" >2da.</text>
<text transform="translate(296.91 707.50) scale(0.8800 1)" font-family="'Liberation Sans', sans-serif" font-size="23.3" font-weight="bold" font-style="italic" fill="#1CA551" letter-spacing="-1.10" stroke="#1CA551" stroke-width="0.45">271.099</text>
<text transform="translate(263.46 728.90) scale(0.9800 1)" font-family="'Liberation Sans', sans-serif" font-size="17" font-weight="normal" font-style="italic" fill="#D62839" >3ra.</text>
<text transform="translate(295.27 728.90) scale(0.8800 1)" font-family="'Liberation Sans', sans-serif" font-size="23.3" font-weight="bold" font-style="italic" fill="#EE1515" letter-spacing="-1.10" stroke="#EE1515" stroke-width="0.45">74.347</text>
<text transform="translate(248.04 749.80) scale(0.9800 1)" font-family="'Liberation Sans', sans-serif" font-size="17" font-weight="normal" font-style="italic" fill="#3A3285" >Única</text>
<text transform="translate(295.27 749.80) scale(0.8800 1)" font-family="'Liberation Sans', sans-serif" font-size="23.3" font-weight="bold" font-style="italic" fill="#4D4D4F" letter-spacing="-1.10" stroke="#4D4D4F" stroke-width="0.45">75.690</text>
<rect x="623.5" y="154.5" width="80.20000000000005" height="32.30000000000001" fill="#E96F4E"/>
<text transform="translate(627.38 180.20) scale(1.0952 1)" font-family="'Liberation Sans', sans-serif" font-size="27.0" font-weight="normal" font-style="normal" fill="#fff" letter-spacing="1.08" stroke="#fff" stroke-width="1.1" stroke-linejoin="round">BENI</text>
<text transform="translate(604.46 213.80) scale(0.9800 1)" font-family="'Liberation Sans', sans-serif" font-size="17" font-weight="normal" font-style="italic" fill="#1a1a1a" >1ra.</text>
<text transform="translate(635.81 213.80) scale(0.8800 1)" font-family="'Liberation Sans', sans-serif" font-size="23.3" font-weight="bold" font-style="italic" fill="#44546A" letter-spacing="-1.10" stroke="#44546A" stroke-width="0.45">221.698</text>
<text transform="translate(600.74 235.50) scale(0.9800 1)" font-family="'Liberation Sans', sans-serif" font-size="17" font-weight="normal" font-style="italic" fill="#22A556" >2da.</text>
<text transform="translate(635.19 235.50) scale(0.8800 1)" font-family="'Liberation Sans', sans-serif" font-size="23.3" font-weight="bold" font-style="italic" fill="#1CA551" letter-spacing="-1.10" stroke="#1CA551" stroke-width="0.45">159.312</text>
<text transform="translate(604.46 256.60) scale(0.9800 1)" font-family="'Liberation Sans', sans-serif" font-size="17" font-weight="normal" font-style="italic" fill="#D62839" >3ra.</text>
<text transform="translate(635.40 256.60) scale(0.8800 1)" font-family="'Liberation Sans', sans-serif" font-size="23.3" font-weight="bold" font-style="italic" fill="#EE1515" letter-spacing="-1.10" stroke="#EE1515" stroke-width="0.45">36.908</text>
<text transform="translate(589.04 277.80) scale(0.9800 1)" font-family="'Liberation Sans', sans-serif" font-size="17" font-weight="normal" font-style="italic" fill="#3A3285" >Única</text>
<text transform="translate(635.19 277.80) scale(0.8800 1)" font-family="'Liberation Sans', sans-serif" font-size="23.3" font-weight="bold" font-style="italic" fill="#4D4D4F" letter-spacing="-1.10" stroke="#4D4D4F" stroke-width="0.45">19.739</text>
<rect x="689.3" y="300.2" width="199.0" height="31.5" fill="#E96F4E"/>
<text transform="translate(697.35 325.10) scale(1.0461 1)" font-family="'Liberation Sans', sans-serif" font-size="26.3" font-weight="normal" font-style="normal" fill="#fff" letter-spacing="1.05" stroke="#fff" stroke-width="1.1" stroke-linejoin="round">SANTA CRUZ</text>
<text transform="translate(750.16 356.70) scale(0.9800 1)" font-family="'Liberation Sans', sans-serif" font-size="17" font-weight="normal" font-style="italic" fill="#1a1a1a" >1ra.</text>
<text transform="translate(786.09 356.70) scale(0.8800 1)" font-family="'Liberation Sans', sans-serif" font-size="23.3" font-weight="bold" font-style="italic" fill="#44546A" letter-spacing="-1.10" stroke="#44546A" stroke-width="0.45">1.754.795</text>
<text transform="translate(746.44 378.80) scale(0.9800 1)" font-family="'Liberation Sans', sans-serif" font-size="17" font-weight="normal" font-style="italic" fill="#22A556" >2da.</text>
<text transform="translate(786.09 378.80) scale(0.8800 1)" font-family="'Liberation Sans', sans-serif" font-size="23.3" font-weight="bold" font-style="italic" fill="#1CA551" letter-spacing="-1.10" stroke="#1CA551" stroke-width="0.45">1.391.882</text>
<text transform="translate(750.16 399.50) scale(0.9800 1)" font-family="'Liberation Sans', sans-serif" font-size="17" font-weight="normal" font-style="italic" fill="#D62839" >3ra.</text>
<text transform="translate(786.30 399.50) scale(0.8800 1)" font-family="'Liberation Sans', sans-serif" font-size="23.3" font-weight="bold" font-style="italic" fill="#EE1515" letter-spacing="-1.10" stroke="#EE1515" stroke-width="0.45">306.195</text>
<text transform="translate(734.74 420.60) scale(0.9800 1)" font-family="'Liberation Sans', sans-serif" font-size="17" font-weight="normal" font-style="italic" fill="#3A3285" >Única</text>
<text transform="translate(786.30 420.60) scale(0.8800 1)" font-family="'Liberation Sans', sans-serif" font-size="23.3" font-weight="bold" font-style="italic" fill="#4D4D4F" letter-spacing="-1.10" stroke="#4D4D4F" stroke-width="0.45">341.844</text>
<rect x="666.2" y="582.1" width="194.5999999999999" height="30.299999999999955" fill="#E96F4E"/>
<text transform="translate(670.13 606.30) scale(1.0296 1)" font-family="'Liberation Sans', sans-serif" font-size="25.7" font-weight="normal" font-style="normal" fill="#fff" letter-spacing="1.03" stroke="#fff" stroke-width="1.1" stroke-linejoin="round">CHUQUISACA</text>
<text transform="translate(737.56 638.00) scale(0.9800 1)" font-family="'Liberation Sans', sans-serif" font-size="17" font-weight="normal" font-style="italic" fill="#1a1a1a" >1ra.</text>
<text transform="translate(768.00 638.00) scale(0.8800 1)" font-family="'Liberation Sans', sans-serif" font-size="23.3" font-weight="bold" font-style="italic" fill="#44546A" letter-spacing="-1.10" stroke="#44546A" stroke-width="0.45">351.761</text>
<text transform="translate(733.84 659.70) scale(0.9800 1)" font-family="'Liberation Sans', sans-serif" font-size="17" font-weight="normal" font-style="italic" fill="#22A556" >2da.</text>
<text transform="translate(768.41 659.70) scale(0.8800 1)" font-family="'Liberation Sans', sans-serif" font-size="23.3" font-weight="bold" font-style="italic" fill="#1CA551" letter-spacing="-1.10" stroke="#1CA551" stroke-width="0.45">295.413</text>
<text transform="translate(737.56 681.10) scale(0.9800 1)" font-family="'Liberation Sans', sans-serif" font-size="17" font-weight="normal" font-style="italic" fill="#D62839" >3ra.</text>
<text transform="translate(767.59 681.10) scale(0.8800 1)" font-family="'Liberation Sans', sans-serif" font-size="23.3" font-weight="bold" font-style="italic" fill="#EE1515" letter-spacing="-1.10" stroke="#EE1515" stroke-width="0.45">93.476</text>
<text transform="translate(722.14 702.20) scale(0.9800 1)" font-family="'Liberation Sans', sans-serif" font-size="17" font-weight="normal" font-style="italic" fill="#3A3285" >Única</text>
<text transform="translate(768.00 702.20) scale(0.8800 1)" font-family="'Liberation Sans', sans-serif" font-size="23.3" font-weight="bold" font-style="italic" fill="#4D4D4F" letter-spacing="-1.10" stroke="#4D4D4F" stroke-width="0.45">38.929</text>
<rect x="578.5" y="673.2" width="113.70000000000005" height="31.799999999999955" fill="#E96F4E"/>
<text transform="translate(585.19 698.50) scale(1.0802 1)" font-family="'Liberation Sans', sans-serif" font-size="26.0" font-weight="normal" font-style="normal" fill="#fff" letter-spacing="1.04" stroke="#fff" stroke-width="1.1" stroke-linejoin="round">TARIJA</text>
<text transform="translate(583.96 734.00) scale(0.9800 1)" font-family="'Liberation Sans', sans-serif" font-size="17" font-weight="normal" font-style="italic" fill="#1a1a1a" >1ra.</text>
<text transform="translate(619.60 734.00) scale(0.8800 1)" font-family="'Liberation Sans', sans-serif" font-size="23.3" font-weight="bold" font-style="italic" fill="#44546A" letter-spacing="-1.10" stroke="#44546A" stroke-width="0.45">359.115</text>
<text transform="translate(580.24 755.50) scale(0.9800 1)" font-family="'Liberation Sans', sans-serif" font-size="17" font-weight="normal" font-style="italic" fill="#22A556" >2da.</text>
<text transform="translate(619.60 755.50) scale(0.8800 1)" font-family="'Liberation Sans', sans-serif" font-size="23.3" font-weight="bold" font-style="italic" fill="#1CA551" letter-spacing="-1.10" stroke="#1CA551" stroke-width="0.45">301.756</text>
<text transform="translate(583.96 776.60) scale(0.9800 1)" font-family="'Liberation Sans', sans-serif" font-size="17" font-weight="normal" font-style="italic" fill="#D62839" >3ra.</text>
<text transform="translate(619.19 776.60) scale(0.8800 1)" font-family="'Liberation Sans', sans-serif" font-size="23.3" font-weight="bold" font-style="italic" fill="#EE1515" letter-spacing="-1.10" stroke="#EE1515" stroke-width="0.45">92.082</text>
<text transform="translate(568.54 797.80) scale(0.9800 1)" font-family="'Liberation Sans', sans-serif" font-size="17" font-weight="normal" font-style="italic" fill="#3A3285" >Única</text>
<text transform="translate(619.60 797.80) scale(0.8800 1)" font-family="'Liberation Sans', sans-serif" font-size="23.3" font-weight="bold" font-style="italic" fill="#4D4D4F" letter-spacing="-1.10" stroke="#4D4D4F" stroke-width="0.45">37.949</text>
<rect x="730.3" y="737.6" width="201.5" height="86.7" fill="#DBBC92"/>
<text transform="translate(762.14 756.50) scale(0.9943 1)" font-family="'Liberation Sans', sans-serif" font-size="16.4" font-weight="bold" font-style="italic" fill="#1F6E9C" >Nota:</text>
<text transform="translate(808.11 756.50) scale(0.9990 1)" font-family="'Liberation Sans', sans-serif" font-size="16.4" font-weight="normal" font-style="italic" fill="#1F6E9C" >Las cifras de</text>
<text transform="translate(743.57 775.40) scale(1.0007 1)" font-family="'Liberation Sans', sans-serif" font-size="16.4" font-weight="normal" font-style="italic" fill="#1F6E9C" >adolescentes y niños ya</text>
<text transform="translate(737.51 794.20) scale(1.0007 1)" font-family="'Liberation Sans', sans-serif" font-size="16.4" font-weight="normal" font-style="italic" fill="#1F6E9C" >están contempladas en el</text>
<text transform="translate(743.24 813.50) scale(1.0084 1)" font-family="'Liberation Sans', sans-serif" font-size="16.4" font-weight="normal" font-style="italic" fill="#1F6E9C" >total de dosis aplicadas.</text>
<text transform="translate(105.34 56.60) scale(0.9876 1)" font-family="'Liberation Sans', sans-serif" font-size="8.4" font-weight="normal" font-style="normal" fill="#4D4D4F" stroke="#4D4D4F" stroke-width="0.15">ESTADO PLURINACIONAL DE</text>
<text transform="translate(104.93 78.80) scale(0.9278 1)" font-family="'Liberation Serif', serif" font-size="29.6" font-weight="bold" font-style="normal" fill="#58595B" stroke="#58595B" stroke-width="0.55">BOLIVIA</text>
<text transform="translate(246.70 67.80) scale(0.9825 1)" font-family="'Liberation Sans', sans-serif" font-size="11.4" font-weight="normal" font-style="normal" fill="#626366" stroke="#626366" stroke-width="0.2">MINISTERIO DE</text>
<text transform="translate(247.16 79.90) scale(0.9658 1)" font-family="'Liberation Sans', sans-serif" font-size="11.4" font-weight="normal" font-style="normal" fill="#626366" stroke="#626366" stroke-width="0.2">SALUD Y DEPORTES</text>
<circle cx="218.7" cy="802.3" r="18.3" fill="#fff"/>
<circle cx="218.7" cy="802.3" r="16.1" fill="#2A72B8"/>
<path transform="translate(218.7 802.3)" d="M0 -10.2 L7.6 -7.2 V-0.5 C7.6 4.8 4 8.6 0 10.6 C-4 8.6 -7.6 4.8 -7.6 -0.5 V-7.2 Z" fill="#E6178A" stroke="#fff" stroke-width="1.5" stroke-linejoin="round"/>
<path transform="translate(218.7 802.3)" d="M-3.2 0 L-0.8 2.4 L3.4 -2.2" fill="none" stroke="#fff" stroke-width="1.8" stroke-linecap="round" stroke-linejoin="round"/>
<circle cx="274.4" cy="802.3" r="18.3" fill="#fff"/>
<circle cx="274.4" cy="802.3" r="16.1" fill="#F0923B"/>
<circle cx="274.4" cy="802.3" r="9.2" fill="#F8B85A" stroke="#fff" stroke-width="1.4"/>
<path transform="translate(274.4 802.3)" d="M-5.2 -2 Q-3.6 -4.2 -2 -2 M2 -2 Q3.6 -4.2 5.2 -2 M-4.6 1.6 Q0 6.6 4.6 1.6" fill="none" stroke="#fff" stroke-width="1.4" stroke-linecap="round"/>
<circle cx="333.6" cy="802.8" r="18.3" fill="#fff"/>
<circle cx="333.6" cy="802.8" r="16.1" fill="#2BA599"/>
<g transform="translate(333.6 802.8)"><path d="M-3.2 6.5 V3.5 L-7.4 -1.8 Q-8 -3.4 -6.2 -3.2 L-3.6 -0.8 V-8.2 Q-2.8 -9.6 -2 -8.2 V-9.8 Q-1 -11.2 0 -9.8 V-9.6 Q1 -11 2 -9.6 V-8.4 Q3 -9.6 3.9 -8.4 V3 L3.2 6.5 Z" fill="#F0923B" stroke="#fff" stroke-width="1.2" stroke-linejoin="round"/><rect x="-3.6" y="7" width="7.4" height="2.2" fill="#1F4E9C" stroke="#fff" stroke-width="0.8"/><rect x="-3.2" y="9.8" width="6.6" height="7" fill="#2A72B8" stroke="#fff" stroke-width="0.8"/></g>
<circle cx="395.5" cy="803.2" r="18.3" fill="#fff"/>
<circle cx="395.5" cy="803.2" r="16.1" fill="#2A9A5C"/>
<g transform="translate(395.5 803.2)" fill="none" stroke="#fff" stroke-width="1.3" stroke-linecap="round" stroke-linejoin="round"><path d="M0 -9 V8.6 M-5.5 9 H5.5 M-7.6 -6.2 H7.6 M-7.6 -6.2 L-10.6 2 H-4.6 Z M7.6 -6.2 L4.6 2 H10.6 Z"/><path d="M-10.8 2.4 Q-7.6 5.6 -4.4 2.4 Z M4.4 2.4 Q7.6 5.6 10.8 2.4 Z" fill="#fff" stroke-width="0.8"/><circle cx="0" cy="-9.2" r="1" fill="#fff"/></g>
<text transform="translate(199.19 834.30) scale(0.9725 1)" font-family="'Liberation Sans', sans-serif" font-size="11" font-weight="bold" font-style="normal" fill="#1a1a1a" >Segura</text>
<text transform="translate(254.27 834.30) scale(0.9860 1)" font-family="'Liberation Sans', sans-serif" font-size="11" font-weight="bold" font-style="normal" fill="#1a1a1a" >Gratuita</text>
<text transform="translate(307.30 834.30) scale(0.9883 1)" font-family="'Liberation Sans', sans-serif" font-size="11" font-weight="bold" font-style="normal" fill="#1a1a1a" >Voluntaria</text>
<text transform="translate(368.55 834.30) scale(0.9912 1)" font-family="'Liberation Sans', sans-serif" font-size="11" font-weight="bold" font-style="normal" fill="#1a1a1a" >Equitativa</text>
<rect x="22.0" y="33.0" width="13" height="13" fill="#F8C9CF" opacity="0.85" transform="rotate(45 28.5 39.5)"/>
<rect x="33.5" y="29.5" width="13" height="13" fill="#F9D5DA" opacity="0.85" transform="rotate(45 40 36)"/>
<rect x="73.0" y="33.0" width="13" height="13" fill="#C9DDF0" opacity="0.85" transform="rotate(45 79.5 39.5)"/>
<rect x="59.5" y="29.5" width="13" height="13" fill="#DDD3EA" opacity="0.85" transform="rotate(45 66 36)"/>
<rect x="20.0" y="83.0" width="13" height="13" fill="#FBF3C2" opacity="0.85" transform="rotate(45 26.5 89.5)"/>
<rect x="73.0" y="83.0" width="13" height="13" fill="#CFE8CF" opacity="0.85" transform="rotate(45 79.5 89.5)"/>
<rect x="14.5" y="49.5" width="13" height="13" fill="#F6D9C8" opacity="0.85" transform="rotate(45 21 56)"/>
<rect x="81.5" y="49.5" width="13" height="13" fill="#D8E2F2" opacity="0.85" transform="rotate(45 88 56)"/>
<rect x="14.5" y="70.5" width="13" height="13" fill="#F7E6C6" opacity="0.85" transform="rotate(45 21 77)"/>
<rect x="81.5" y="70.5" width="13" height="13" fill="#D5EBDD" opacity="0.85" transform="rotate(45 88 77)"/>
<rect x="33.5" y="87.5" width="13" height="13" fill="#FBF0C8" opacity="0.85" transform="rotate(45 40 94)"/>
<rect x="61.5" y="87.5" width="13" height="13" fill="#DCEED8" opacity="0.85" transform="rotate(45 68 94)"/>
<g transform="translate(47.96 24.00)"><rect width="11.3" height="11.3" fill="#8E1B22"/><rect x="0" y="0" width="11.3" height="1.5" fill="#5A1015"/><rect x="0" y="9.8" width="11.3" height="1.5" fill="#5A1015"/><path d="M2 4 Q5.65 1 9.3 4 Q9.8 6.65 5.65 9.100000000000001 Q1.5 6.65 2 4 Z" fill="#E3202B"/></g>
<g transform="translate(36.24 35.72)"><rect width="11.3" height="11.3" fill="#D9467C"/><path d="M1 3 L3 7 L5 3 L7 7 L9 3 L10.3 7 V10.3 H1 Z" fill="#231F20"/><rect x="0" y="0" width="11.3" height="1.6" fill="#F2A0BC"/></g>
<g transform="translate(47.96 35.72)"><rect width="11.3" height="11.3" fill="#8A7A76"/><path d="M1 1 L10.3 10.3 M10.3 1 L1 10.3" stroke="#3C2F2F" stroke-width="2.6"/><path d="M1 1 L10.3 10.3 M10.3 1 L1 10.3" stroke="#DCCFC8" stroke-width="0.9"/><rect x="4.15" y="4.15" width="3" height="3" fill="#DCCFC8"/></g>
<g transform="translate(59.68 35.72)"><rect width="11.3" height="11.3" fill="#6E4A2C"/><rect x="1.4" y="1.4" width="8.5" height="8.5" fill="#6F9A3E"/><rect x="3.4" y="3.4" width="4.500000000000001" height="4.500000000000001" fill="#B98A4E"/></g>
<g transform="translate(24.52 47.44)"><rect width="11.3" height="11.3" fill="#E07B2A"/><rect x="1.74" y="0.8" width="1.51" height="9.700000000000001" fill="#3E7D32"/><rect x="5.22" y="0.8" width="1.51" height="9.700000000000001" fill="#3E7D32"/><rect x="8.69" y="0.8" width="1.51" height="9.700000000000001" fill="#3E7D32"/><rect x="0" y="4.8500000000000005" width="11.3" height="1.4" fill="#F5C06A" opacity="0.45"/></g>
<g transform="translate(36.24 47.44)"><rect width="11.3" height="11.3" fill="#3E9B4F"/><rect x="1.4" y="1.4" width="8.5" height="8.5" fill="#F3B6CE"/><rect x="3.4" y="3.4" width="4.500000000000001" height="4.500000000000001" fill="#E2508E"/></g>
<g transform="translate(47.96 47.44)"><rect width="11.3" height="11.3" fill="#C4202E"/><path d="M5.65 1 L10.3 5.65 L5.65 10.3 L1 5.65 Z" fill="#F2A5B5"/><path d="M5.65 3.4 L7.9 5.65 L5.65 7.9 L3.4 5.65 Z" fill="#7A1F5C"/><rect x="4.550000000000001" y="4.550000000000001" width="2.2" height="2.2" fill="#C4202E"/></g>
<g transform="translate(59.68 47.44)"><rect width="11.3" height="11.3" fill="#7B4B94"/><path d="M1 1 L10.3 10.3 M10.3 1 L1 10.3" stroke="#E8843C" stroke-width="2.6"/><path d="M1 1 L10.3 10.3 M10.3 1 L1 10.3" stroke="#F0B070" stroke-width="0.9"/><rect x="4.15" y="4.15" width="3" height="3" fill="#F0B070"/></g>
<g transform="translate(71.40 47.44)"><rect width="11.3" height="11.3" fill="#2E7D32"/><rect x="1.4" y="1.4" width="8.5" height="8.5" fill="#B5651D"/><rect x="3.4" y="3.4" width="4.500000000000001" height="4.500000000000001" fill="#3E9B4F"/></g>
<g transform="translate(12.80 59.16)"><rect width="11.3" height="11.3" fill="#E8D44D"/><rect x="0" y="0" width="11.3" height="1.5" fill="#6FA33A"/><rect x="0" y="9.8" width="11.3" height="1.5" fill="#6FA33A"/><path d="M2 4 Q5.65 1 9.3 4 Q9.8 6.65 5.65 9.100000000000001 Q1.5 6.65 2 4 Z" fill="#C62828"/></g>
<g transform="translate(24.52 59.16)"><rect width="11.3" height="11.3" fill="#6D4C41"/><path d="M5.65 1 L10.3 5.65 L5.65 10.3 L1 5.65 Z" fill="#E8D9C0"/><path d="M5.65 3.4 L7.9 5.65 L5.65 7.9 L3.4 5.65 Z" fill="#5E3B76"/><rect x="4.550000000000001" y="4.550000000000001" width="2.2" height="2.2" fill="#6D4C41"/></g>
<g transform="translate(36.24 59.16)"><rect width="11.3" height="11.3" fill="#EDA6BB"/><rect x="0" y="0" width="5.65" height="5.65" fill="#7B1F3A"/><rect x="5.65" y="5.65" width="5.65" height="5.65" fill="#7B1F3A"/><rect x="7.25" y="1.6" width="2.4" height="2.4" fill="#F6D4DE"/><rect x="1.6" y="7.25" width="2.4" height="2.4" fill="#F6D4DE"/></g>
<g transform="translate(47.96 59.16)"><rect width="11.3" height="11.3" fill="#F39C12"/><circle cx="5.65" cy="5.65" r="4.75" fill="#F8C255"/><circle cx="5.65" cy="5.65" r="3.0500000000000003" fill="none" stroke="#F39C12" stroke-width="0.9"/><circle cx="5.65" cy="5.65" r="1.2" fill="#F39C12"/></g>
<g transform="translate(59.68 59.16)"><rect width="11.3" height="11.3" fill="#E8836B"/><rect y="1.74" x="0.8" height="1.51" width="9.700000000000001" fill="#D96C8A"/><rect y="5.22" x="0.8" height="1.51" width="9.700000000000001" fill="#D96C8A"/><rect y="8.69" x="0.8" height="1.51" width="9.700000000000001" fill="#D96C8A"/></g>
<g transform="translate(71.40 59.16)"><rect width="11.3" height="11.3" fill="#E6DB55"/><path d="M5.65 1 L10.3 5.65 L5.65 10.3 L1 5.65 Z" fill="#6A4C93"/><path d="M5.65 3.4 L7.9 5.65 L5.65 7.9 L3.4 5.65 Z" fill="#E6DB55"/><rect x="4.550000000000001" y="4.550000000000001" width="2.2" height="2.2" fill="#E6DB55"/></g>
<g transform="translate(83.12 59.16)"><rect width="11.3" height="11.3" fill="#1EA7D6"/><rect x="1.4" y="1.4" width="8.5" height="8.5" fill="#0B7FA5"/><rect x="3.4" y="3.4" width="4.500000000000001" height="4.500000000000001" fill="#35B8E2"/></g>
<g transform="translate(24.52 70.88)"><rect width="11.3" height="11.3" fill="#D9B92E"/><path d="M5.65 1 L10.3 5.65 L5.65 10.3 L1 5.65 Z" fill="#4E342E"/><path d="M5.65 3.4 L7.9 5.65 L5.65 7.9 L3.4 5.65 Z" fill="#D9B92E"/><rect x="4.550000000000001" y="4.550000000000001" width="2.2" height="2.2" fill="#D9B92E"/></g>
<g transform="translate(36.24 70.88)"><rect width="11.3" height="11.3" fill="#E89AB0"/><rect x="1.74" y="0.8" width="1.51" height="9.700000000000001" fill="#5D4037"/><rect x="5.22" y="0.8" width="1.51" height="9.700000000000001" fill="#5D4037"/><rect x="8.69" y="0.8" width="1.51" height="9.700000000000001" fill="#5D4037"/><rect x="0" y="4.8500000000000005" width="11.3" height="1.4" fill="#E89AB0" opacity="0.45"/></g>
<g transform="translate(47.96 70.88)"><rect width="11.3" height="11.3" fill="#1FA59A"/><rect x="0" y="0" width="11.3" height="1.5" fill="#147A72"/><rect x="0" y="9.8" width="11.3" height="1.5" fill="#147A72"/><path d="M2 4 Q5.65 1 9.3 4 Q9.8 6.65 5.65 9.100000000000001 Q1.5 6.65 2 4 Z" fill="#F2C230"/></g>
<g transform="translate(59.68 70.88)"><rect width="11.3" height="11.3" fill="#7E6BB0"/><rect x="1.74" y="0.8" width="1.51" height="9.700000000000001" fill="#E8C84A"/><rect x="5.22" y="0.8" width="1.51" height="9.700000000000001" fill="#E8C84A"/><rect x="8.69" y="0.8" width="1.51" height="9.700000000000001" fill="#E8C84A"/><rect x="0" y="4.8500000000000005" width="11.3" height="1.4" fill="#C0392B" opacity="0.45"/></g>
<g transform="translate(71.40 70.88)"><rect width="11.3" height="11.3" fill="#1565C0"/><rect y="1.74" x="0.8" height="1.51" width="9.700000000000001" fill="#2E9E5B"/><rect y="5.22" x="0.8" height="1.51" width="9.700000000000001" fill="#2E9E5B"/><rect y="8.69" x="0.8" height="1.51" width="9.700000000000001" fill="#2E9E5B"/></g>
<g transform="translate(36.24 82.60)"><rect width="11.3" height="11.3" fill="#D4B52A"/><path d="M1 1 L10.3 10.3 M10.3 1 L1 10.3" stroke="#4E342E" stroke-width="2.6"/><path d="M1 1 L10.3 10.3 M10.3 1 L1 10.3" stroke="#D4B52A" stroke-width="0.9"/><rect x="4.15" y="4.15" width="3" height="3" fill="#D4B52A"/></g>
<g transform="translate(47.96 82.60)"><rect width="11.3" height="11.3" fill="#1AA5C8"/><path d="M5.65 1 L10.3 5.65 L5.65 10.3 L1 5.65 Z" fill="#0D5C75"/><path d="M5.65 3.4 L7.9 5.65 L5.65 7.9 L3.4 5.65 Z" fill="#1AA5C8"/><rect x="4.550000000000001" y="4.550000000000001" width="2.2" height="2.2" fill="#1AA5C8"/></g>
<g transform="translate(59.68 82.60)"><rect width="11.3" height="11.3" fill="#E0A458"/><rect x="1.4" y="1.4" width="8.5" height="8.5" fill="#D9822B"/><rect x="3.4" y="3.4" width="4.500000000000001" height="4.500000000000001" fill="#F0C58A"/></g>
<g transform="translate(47.96 94.32)"><rect width="11.3" height="11.3" fill="#3DAA35"/><path d="M5.65 1 L10.3 5.65 L5.65 10.3 L1 5.65 Z" fill="#1B6B2A"/><path d="M5.65 3.4 L7.9 5.65 L5.65 7.9 L3.4 5.65 Z" fill="#A7E05A"/><rect x="4.550000000000001" y="4.550000000000001" width="2.2" height="2.2" fill="#3DAA35"/></g>
<defs><linearGradient id="esp" x1="0" y1="0" x2="1" y2="0"><stop offset="0" stop-color="#1B2F7E"/><stop offset="0.6" stop-color="#1B4C9A"/><stop offset="1" stop-color="#2BA5C9"/></linearGradient></defs>
<g transform="translate(109.75 790.85) rotate(-15.7)">
<line x1="64" y1="0" x2="88.4" y2="0" stroke="#2E9BD0" stroke-width="3.6" stroke-linecap="round"/>
<rect x="52" y="-13.7" width="13.5" height="26.2" rx="1.5" fill="#2E86C6"/>
<rect x="55.5" y="-8.5" width="5" height="17" fill="#0B8A4A"/>
<rect x="-67" y="-11.5" width="16" height="22.5" fill="#1A4FA3"/>
<rect x="-66.2" y="-6.2" width="11" height="12" fill="#FFD21F"/>
<rect x="-83.5" y="-24.6" width="18" height="54" rx="2.6" fill="#1A3F98"/>
<rect x="-77.5" y="-20" width="6" height="46" fill="#F0101A"/>
<rect x="-54.5" y="-22.6" width="107.8" height="46" rx="3" fill="#1A4FA3"/>
<rect x="-49.6" y="-17.6" width="98.6" height="36" fill="#A6CE39"/>
</g>
<g transform="translate(109.75 790.85) rotate(-15.7)" font-family="'Liberation Sans', sans-serif" font-weight="bold">
<text x="-38" y="-2" font-size="14.5" font-style="italic" fill="#E91E8C" stroke="#E91E8C" stroke-width="0.5" textLength="58" lengthAdjust="spacingAndGlyphs">Dosis de</text>
<text transform="rotate(-6.2 -46.7 16.6)" x="-46.7" y="16.6" font-size="16" fill="url(#esp)" stroke="url(#esp)" stroke-width="0.7" letter-spacing="-1.1">ESPER<tspan font-size="17.5">AN</tspan><tspan font-size="19.5">ZA</tspan></text>
</g>
</svg>
</body>
</html>
